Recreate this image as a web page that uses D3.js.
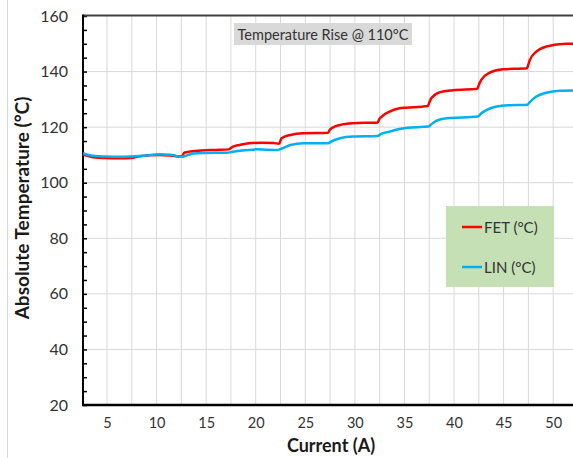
<!DOCTYPE html>
<html>
<head>
<meta charset="utf-8">
<script src="https://cdn.jsdelivr.net/npm/d3@7"></script>
<style>
  body { margin: 0; background: #fff; }
  svg { display: block; font-family: Lato, "Open Sans", sans-serif; }
</style>
</head>
<body>
<svg id="chart" width="573" height="458"></svg>
<script>
// values
let chartTitle = "Temperature Rise @ 110°C";
let xTitle = "Current (A)";
let yTitle = "Absolute Temperature (°C)";
let seriesNames = ["FET (°C)", "LIN (°C)"];

let xTicks = [5, 10, 15, 20, 25, 30, 35, 40, 45, 50];
let yTicks = [20, 40, 60, 80, 100, 120, 140, 160];

let fetCurrent = [2.58, 3.1, 3.8, 4.8, 6.3, 7.4, 8.3, 10.3, 11.4, 12.4, 12.55, 12.8, 13.4, 14.5, 16.0, 17.3,
  17.5, 17.7, 18.4, 19.3, 20.6, 21.8, 22.35, 22.5, 22.6, 23.5, 24.8, 27.3,
  27.45, 27.65, 28.5, 29.8, 32.3, 32.45, 32.7, 33.5, 34.5, 35.2, 37.35,
  37.5, 37.7, 38.6, 39.9, 42.35, 42.5, 42.75, 43.6, 44.9, 47.35, 47.5, 47.65, 48.3, 49.3, 51.3, 52];
let fetTemp = [110.2, 109.6, 109.1, 108.9, 108.8, 108.9, 109.5, 110.0, 109.8, 109.4, 109.5, 110.8, 111.2, 111.6, 111.8, 112.0,
  112.5, 113.0, 113.6, 114.2, 114.4, 114.3, 114.0, 115.2, 116.0, 117.2, 117.8, 118.0,
  118.9, 119.6, 120.8, 121.4, 121.7, 122.8, 123.8, 125.6, 126.8, 127.0, 127.6,
  128.8, 130.4, 132.6, 133.3, 133.8, 135.2, 137.0, 139.6, 140.8, 141.2, 142.6, 144.2, 147.2, 149.0, 150.0, 150.0];

let linCurrent = [2.58, 3.1, 3.8, 4.8, 6.3, 7.3, 8.3, 9.3, 10.3, 11.4, 11.9, 12.4, 12.7, 13.2, 13.7, 15.0, 17.1,
  17.5, 18.4, 20.1, 22.2, 22.7, 23.5, 24.8, 27.3, 27.6, 28.5, 29.8, 32.3,
  32.6, 33.5, 34.5, 35.3, 37.4, 37.7, 38.2, 39.25, 42.4, 42.7, 43.3, 44.3, 45.6, 47.4,
  47.7, 48.3, 49.3, 50.7, 52];
let linTemp = [110.6, 110.0, 109.6, 109.4, 109.3, 109.4, 109.6, 109.9, 110.2, 110.1, 109.7, 109.3, 109.4, 110.0, 110.5, 110.7, 110.8,
  111.0, 111.5, 112.0, 111.8, 112.4, 113.6, 114.2, 114.2, 114.8, 116.0, 116.6, 116.8,
  117.5, 118.4, 119.3, 119.8, 120.2, 121.0, 122.3, 123.2, 123.8, 124.8, 126.2, 127.4, 127.9, 128.1,
  129.2, 131.0, 132.4, 133.1, 133.2];

let svg = d3.select('#chart');

let x = d3.scaleLinear().domain([2.58, 52]).range([83, 573]);
let y = d3.scaleLinear().domain([20, 160]).range([405, 16]);

// chart frame edge on the left
svg.append('line')
  .attr('x1', 7.5).attr('x2', 7.5).attr('y1', 0).attr('y2', 458)
  .attr('stroke', '#d9d9d9');

// gridlines
svg.append('g')
  .selectAll('line')
  .data(d3.range(5, 52.01, 2.5))
  .enter()
  .append('line')
  .attr('x1', d => x(d)).attr('x2', d => x(d))
  .attr('y1', y(160)).attr('y2', y(20))
  .attr('stroke', '#d9d9d9');

svg.append('g')
  .selectAll('line')
  .data(yTicks.slice(1, -1))
  .enter()
  .append('line')
  .attr('x1', x.range()[0]).attr('x2', x.range()[1])
  .attr('y1', d => y(d)).attr('y2', d => y(d))
  .attr('stroke', '#d9d9d9');

// y axis labels
let yAxis = svg.append('g')
  .attr('transform', 'translate(83,0)')
  .call(d3.axisLeft(y).tickValues(yTicks).tickSize(0).tickPadding(15));
yAxis.select('.domain').remove();
yAxis.selectAll('text')
  .attr('font-size', 16)
  .attr('font-family', 'Lato, sans-serif')
  .attr('fill', '#333');

// small inside ticks on the y axis
svg.append('g')
  .attr('transform', 'translate(83,0)')
  .call(d3.axisRight(y).tickValues(d3.range(20, 160.1, 5)).tickSize(4).tickFormat(''))
  .call(g => g.select('.domain').remove())
  .selectAll('line').attr('stroke', '#000').attr('stroke-width', 1.5);

// x axis labels
let xAxis = svg.append('g')
  .attr('transform', 'translate(0,405)')
  .call(d3.axisBottom(x).tickValues(xTicks).tickSize(0).tickPadding(13));
xAxis.select('.domain').remove();
xAxis.selectAll('text')
  .attr('font-size', 14.5)
  .attr('font-family', 'Lato, sans-serif')
  .attr('fill', '#333');

// axis lines
svg.append('line')
  .attr('x1', 83).attr('x2', 573).attr('y1', 15.5).attr('y2', 15.5)
  .attr('stroke', '#404040').attr('stroke-width', 2);
svg.append('line')
  .attr('x1', 83).attr('x2', 83).attr('y1', 14.5).attr('y2', 406)
  .attr('stroke', '#000').attr('stroke-width', 2);
svg.append('line')
  .attr('x1', 82).attr('x2', 573).attr('y1', 405).attr('y2', 405)
  .attr('stroke', '#000').attr('stroke-width', 2.5);

// series lines
let line = d3.line()
  .x(d => x(d[0]))
  .y(d => y(d[1]))
  .curve(d3.curveMonotoneX);

let fetData = fetCurrent.map((c, i) => [c, fetTemp[i]]);
let linData = linCurrent.map((c, i) => [c, linTemp[i]]);
let colors = ['#ff0000', '#00b0f0'];

svg.append('path')
  .datum(fetData)
  .attr('d', line)
  .attr('fill', 'none')
  .attr('stroke', colors[0])
  .attr('stroke-width', 2.5);

svg.append('path')
  .datum(linData)
  .attr('d', line)
  .attr('fill', 'none')
  .attr('stroke', colors[1])
  .attr('stroke-width', 2.5);

// title box
svg.append('rect')
  .attr('x', 234).attr('y', 23).attr('width', 178).attr('height', 22)
  .attr('fill', '#d9d9d9');
svg.append('text')
  .attr('x', 323).attr('y', 39.5)
  .attr('text-anchor', 'middle')
  .attr('font-size', 14.5)
  .attr('fill', '#333')
  .text(chartTitle);

// legend
svg.append('rect')
  .attr('x', 446).attr('y', 206).attr('width', 108).attr('height', 81)
  .attr('fill', '#c5e0b4');

let legend = svg.selectAll('.legend')
  .data(seriesNames)
  .enter()
  .append('g')
  .attr('class', 'legend')
  .attr('transform', (d, i) => 'translate(462,' + (227 + i * 40) + ')');

legend.append('line')
  .attr('x1', 0).attr('x2', 20)
  .attr('stroke', (d, i) => colors[i])
  .attr('stroke-width', 2.5);

legend.append('text')
  .attr('x', 22).attr('y', 5.5)
  .attr('font-size', 15)
  .attr('fill', '#333')
  .text(d => d);

// axis titles
svg.append('text')
  .attr('x', 331).attr('y', 452)
  .attr('text-anchor', 'middle')
  .attr('font-size', 18)
  .attr('font-weight', 'bold')
  .attr('fill', '#1a1a1a')
  .text(xTitle);

svg.append('text')
  .attr('transform', 'translate(29,208) rotate(-90)')
  .attr('text-anchor', 'middle')
  .attr('font-size', 19)
  .attr('font-weight', 'bold')
  .attr('fill', '#1a1a1a')
  .text(yTitle);
</script>
</body>
</html>
